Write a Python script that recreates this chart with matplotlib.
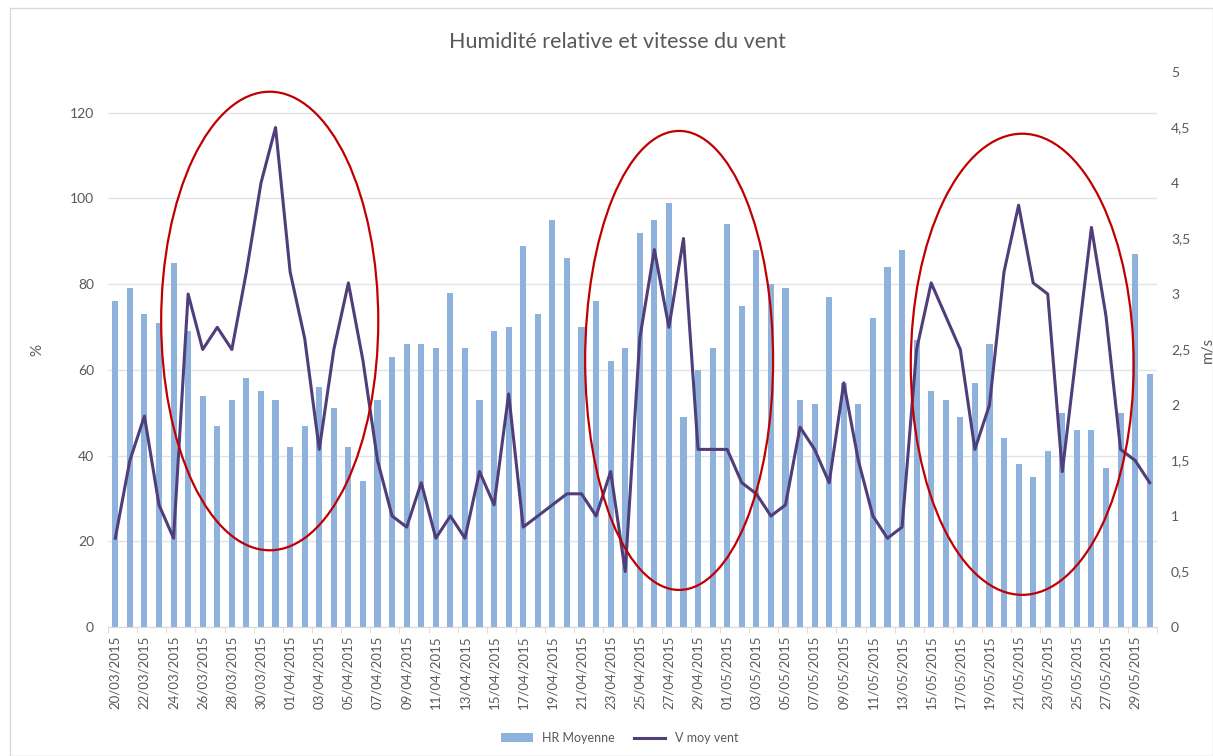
import matplotlib
matplotlib.use("Agg")
import matplotlib.pyplot as plt
from matplotlib.patches import Ellipse, Rectangle
import datetime as dt

plt.rcParams['font.family'] = ['Lato', 'DejaVu Sans']

start = dt.date(2015, 3, 20)
dates = [(start + dt.timedelta(days=i)).strftime('%d/%m/%Y') for i in range(72)]

hr_moyenne = [76, 79, 73, 71, 85, 69, 54, 47, 53, 58, 55, 53, 42, 47, 56, 51, 42, 34,
              53, 63, 66, 66, 65, 78, 65, 53, 69, 70, 89, 73, 95, 86, 70, 76, 62, 65,
              92, 95, 99, 49, 60, 65, 94, 75, 88, 80, 79, 53, 52, 77, 57, 52, 72, 84,
              88, 67, 55, 53, 49, 57, 66, 44, 38, 35, 41, 50, 46, 46, 37, 50, 87, 59]

v_moy_vent = [0.8, 1.5, 1.9, 1.1, 0.8, 3.0, 2.5, 2.7, 2.5, 3.2, 4.0, 4.5, 3.2, 2.6, 1.6, 2.5,
              3.1, 2.4, 1.5, 1.0, 0.9, 1.3, 0.8, 1.0, 0.8, 1.4, 1.1, 2.1, 0.9, 1.0, 1.1, 1.2,
              1.2, 1.0, 1.4, 0.5, 2.6, 3.4, 2.7, 3.5, 1.6, 1.6, 1.6, 1.3, 1.2, 1.0, 1.1, 1.8,
              1.6, 1.3, 2.2, 1.5, 1.0, 0.8, 0.9, 2.5, 3.1, 2.8, 2.5, 1.6, 2.0, 3.2, 3.8, 3.1,
              3.0, 1.4, 2.5, 3.6, 2.8, 1.6, 1.5, 1.3]

left_ticks = [0, 20, 40, 60, 80, 100, 120]
right_ticks = [0, 0.5, 1, 1.5, 2, 2.5, 3, 3.5, 4, 4.5, 5]
right_labels = ['0', '0,5', '1', '1,5', '2', '2,5', '3', '3,5', '4', '4,5', '5']

# highlighted zones: (center index, center %, width in days, height in %)
zones = [(10.6, 71.4, 14.9, 107.0), (38.7, 62.2, 12.9, 107.1), (62.25, 61.3, 15.3, 107.6)]

W, H = 1213, 756
fig = plt.figure(figsize=(W / 100, H / 100), dpi=100)
fig.patches.append(Rectangle((10 / W, 0), 1 - 10 / W, 1 - 8 / H, transform=fig.transFigure,
                             fill=False, edgecolor='#D9D9D9', linewidth=1))

ax = fig.add_axes([108 / W, 1 - 627 / H, (1157 - 108) / W, (627 - 72) / H])
x = list(range(len(dates)))
bars = ax.bar(x, hr_moyenne, width=0.42, color='#8FB2DD', zorder=2, label='HR Moyenne')
ax.set_xlim(-0.5, len(dates) - 0.5)
ax.set_ylim(0, 129.5)
ax.set_yticks(left_ticks)
ax.set_yticklabels([str(t) for t in left_ticks], color='#595959', fontsize=10)
ax.yaxis.grid(True, color='#E3E3E3', linewidth=1)
ax.set_axisbelow(True)
ax.tick_params(axis='y', length=0, pad=10)
ax.set_xticks(x[::2])
ax.set_xticklabels(dates[::2], rotation=90, fontsize=9.5, color='#595959')
ax.set_xticks([i - 0.5 for i in range(0, 73, 2)], minor=True)
ax.tick_params(axis='x', which='major', length=0, pad=6)
ax.tick_params(axis='x', which='minor', length=4, color='#D9D9D9')
for s in ['top', 'right', 'left']:
    ax.spines[s].set_visible(False)
ax.spines['bottom'].set_color('#D9D9D9')
ax.set_ylabel('%', color='#595959', fontsize=11, labelpad=18)

ax2 = ax.twinx()
line, = ax2.plot(x, v_moy_vent, color='#4F3E7A', linewidth=2.2, zorder=3, label='V moy vent')
ax2.set_ylim(0, 5)
ax2.set_yticks(right_ticks)
ax2.set_yticklabels(right_labels, color='#595959', fontsize=10)
ax2.tick_params(axis='y', length=0, pad=10)
for s in ['top', 'right', 'left', 'bottom']:
    ax2.spines[s].set_visible(False)
ax2.set_ylabel('m/s', color='#595959', fontsize=11, labelpad=8)

for cx, cy, w, h in zones:
    e = Ellipse((cx, cy), w, h, fill=False,
                edgecolor='#C00000', linewidth=1.6, zorder=5, clip_on=False)
    ax2.add_artist(e)
    e.set_transform(ax.transData)

fig.text(617 / W, 1 - 42 / H, 'Humidité relative et vitesse du vent', ha='center', va='center',
         fontsize=15.5, color='#595959')

fig.legend([bars, line], ['HR Moyenne', 'V moy vent'], loc='center', ncol=2,
           bbox_to_anchor=(620 / W, 1 - 738 / H), frameon=False, fontsize=9,
           labelcolor='#595959', handlelength=2.5, columnspacing=1.5)

fig.savefig('out.png', dpi=100)
